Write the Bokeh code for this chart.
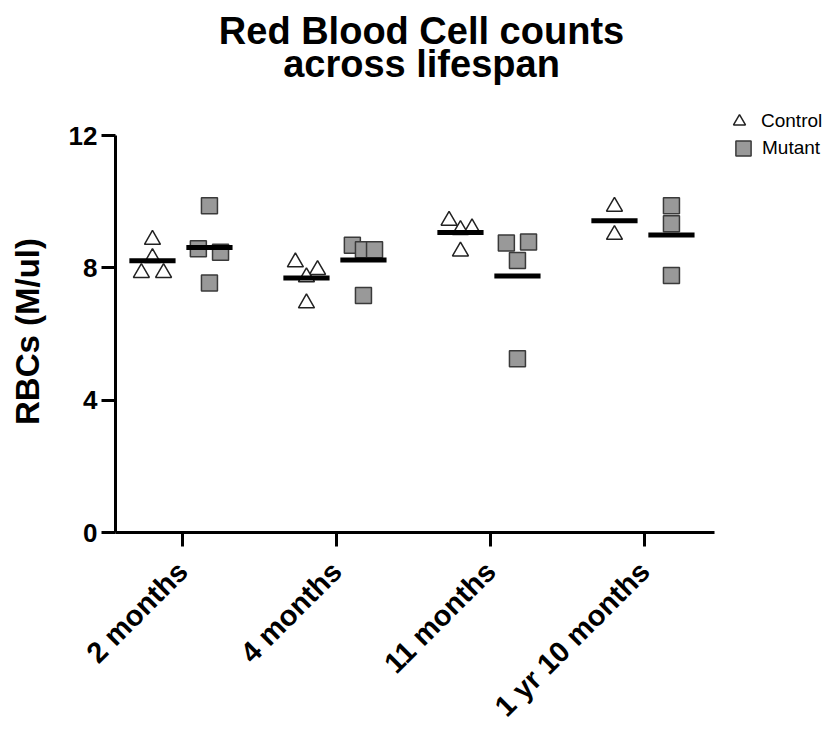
import numpy as np
from bokeh.plotting import figure
from bokeh.models import (ColumnDataSource, Range1d, FixedTicker, Legend, LegendItem, Label)
from bokeh.embed import file_html
from bokeh.resources import INLINE
from math import pi

# ---------------- data ----------------
groups = ["2 months", "4 months", "11 months", "1 yr 10 months"]
ctrl_2m = [8.85, 8.30, 7.85, 7.85]
ctrl_4m = [8.17, 7.94, 7.72, 6.93]
ctrl_11m = [9.43, 9.15, 9.20, 8.50]
ctrl_22m = [9.85, 9.00]
mut_2m = [9.88, 8.58, 8.47, 7.54]
mut_4m = [8.68, 8.55, 8.55, 7.16]
mut_11m = [8.75, 8.78, 8.22, 5.25]
mut_22m = [9.88, 9.33, 7.77]
y_ticks = [0, 4, 8, 12]

# horizontal scatter (jitter) of overlapping points, in category units
ctrl_jit = [[0, 0, -0.072, 0.072], [-0.072, 0.072, 0, 0], [-0.074, 0, 0.075, 0], [0, 0]]
mut_jit = [[0, -0.072, 0.072, 0], [-0.072, 0, 0.072, 0], [-0.072, 0.072, 0, 0], [0, 0, 0]]

ctrl = [ctrl_2m, ctrl_4m, ctrl_11m, ctrl_22m]
mut = [mut_2m, mut_4m, mut_11m, mut_22m]

CTRL_OFF = -0.195
MUT_OFF = 0.175
FONT = "Liberation Sans"

def build(series, jit, off):
    xs, ys = [], []
    mx, my = [], []
    for i, (vals, js) in enumerate(zip(series, jit)):
        pos = i + 1 + off
        for v, j in zip(vals, js):
            xs.append(pos + j)
            ys.append(v)
        mx.append(pos)
        my.append(float(np.mean(vals)))
    return (ColumnDataSource(dict(x=xs, y=ys)), ColumnDataSource(dict(x=mx, y=my)))

c_pts, c_mean = build(ctrl, ctrl_jit, CTRL_OFF)
m_pts, m_mean = build(mut, mut_jit, MUT_OFF)

# ---------------- layout ----------------
PX_PER_UNIT = 397 / 12.0
FRAME_H = 722          # the frame covers the whole page; axes are placed inside it
FRAME_W = 823
ZERO_SY = 532          # screen y of value 0
CAT_PX = 154.0
AXIS_SX = 115          # screen x of the y axis
x_start = 1 - 182 / CAT_PX
x_axis0 = 1 - (182 - AXIS_SX) / CAT_PX

def sy(y_screen_from_top):
    return FRAME_H - y_screen_from_top

p = figure(frame_width=FRAME_W, frame_height=FRAME_H,
           output_backend="svg", toolbar_location=None,
           x_range=Range1d(x_start, x_start + FRAME_W / CAT_PX),
           y_range=Range1d(-(FRAME_H - ZERO_SY) / PX_PER_UNIT, ZERO_SY / PX_PER_UNIT),
           min_border_left=0, min_border_right=0, min_border_top=0, min_border_bottom=0)

p.outline_line_color = None
p.grid.grid_line_color = None
p.background_fill_color = "white"
p.border_fill_color = "white"

# axes
for ax in (p.xaxis[0], p.yaxis[0]):
    ax.axis_line_width = 3
    ax.axis_line_color = "black"
    ax.major_tick_line_width = 3
    ax.major_tick_line_color = "black"
    ax.minor_tick_line_color = None
    ax.major_tick_in = 0
    ax.major_tick_out = 14
    ax.major_label_text_font = FONT
    ax.major_label_text_font_style = "bold"
    ax.major_label_text_color = "black"

p.yaxis.fixed_location = x_axis0
p.yaxis.bounds = (0, 12)
p.yaxis.ticker = FixedTicker(ticks=y_ticks)
p.yaxis.major_label_text_font_size = "26px"
p.yaxis.major_label_standoff = 4

p.xaxis.fixed_location = 0
p.xaxis.bounds = (x_axis0, 4.455)
p.xaxis.ticker = FixedTicker(ticks=[1, 2, 3, 4])
p.xaxis.major_label_overrides = {i + 1: g for i, g in enumerate(groups)}
p.xaxis.major_label_orientation = pi / 4
p.xaxis.major_label_text_font_size = "29px"
p.xaxis.major_label_standoff = 20

# points
r_c = p.scatter("x", "y", source=c_pts, marker="triangle", size=16,
                fill_color="white", line_color="#222222", line_width=1.5)
r_m = p.scatter("x", "y", source=m_pts, marker="square", size=16,
                fill_color="#999999", line_color="#3a3a3a", line_width=1.5)

# mean lines
p.rect("x", "y", source=c_mean, width=0.30, height=5, height_units="screen",
       fill_color="black", line_color=None)
p.rect("x", "y", source=m_mean, width=0.30, height=5, height_units="screen",
       fill_color="black", line_color=None)

# title (two centred lines)
for txt, ty in (("Red Blood Cell counts", 46), ("across lifespan", 79)):
    p.add_layout(Label(x=421, y=sy(ty) + 16, x_units="screen", y_units="screen", text=txt,
                       text_align="center", text_baseline="alphabetic",
                       text_font=FONT, text_font_size="38px", text_font_style="bold",
                       text_color="black"))

# y axis title
p.add_layout(Label(x=27, y=sy(331), x_units="screen", y_units="screen",
                   text="RBCs (M/ul)", angle=pi / 2, text_align="center",
                   text_baseline="middle", text_font=FONT, text_font_size="33px",
                   text_font_style="bold", text_color="black"))

# legend: one entry per Legend so each key can have its own size and row
def add_key(label, renderer, box, left, bottom, standoff):
    lg = Legend(items=[LegendItem(label=label, renderers=[renderer])],
                location=(left, sy(bottom)), orientation="vertical")
    lg.background_fill_alpha = 0
    lg.border_line_color = None
    lg.label_text_font = FONT
    lg.label_text_font_size = "19px"
    lg.label_text_color = "black"
    lg.glyph_width = box
    lg.glyph_height = box
    lg.label_standoff = standoff
    lg.padding = 0
    lg.margin = 0
    p.add_layout(lg, "center")

add_key("Control", r_c, 30, 724, 136, 7)
add_key("Mutant", r_m, 38, 724, 167, 0)

open("out.html", "w").write(file_html(p, INLINE))
